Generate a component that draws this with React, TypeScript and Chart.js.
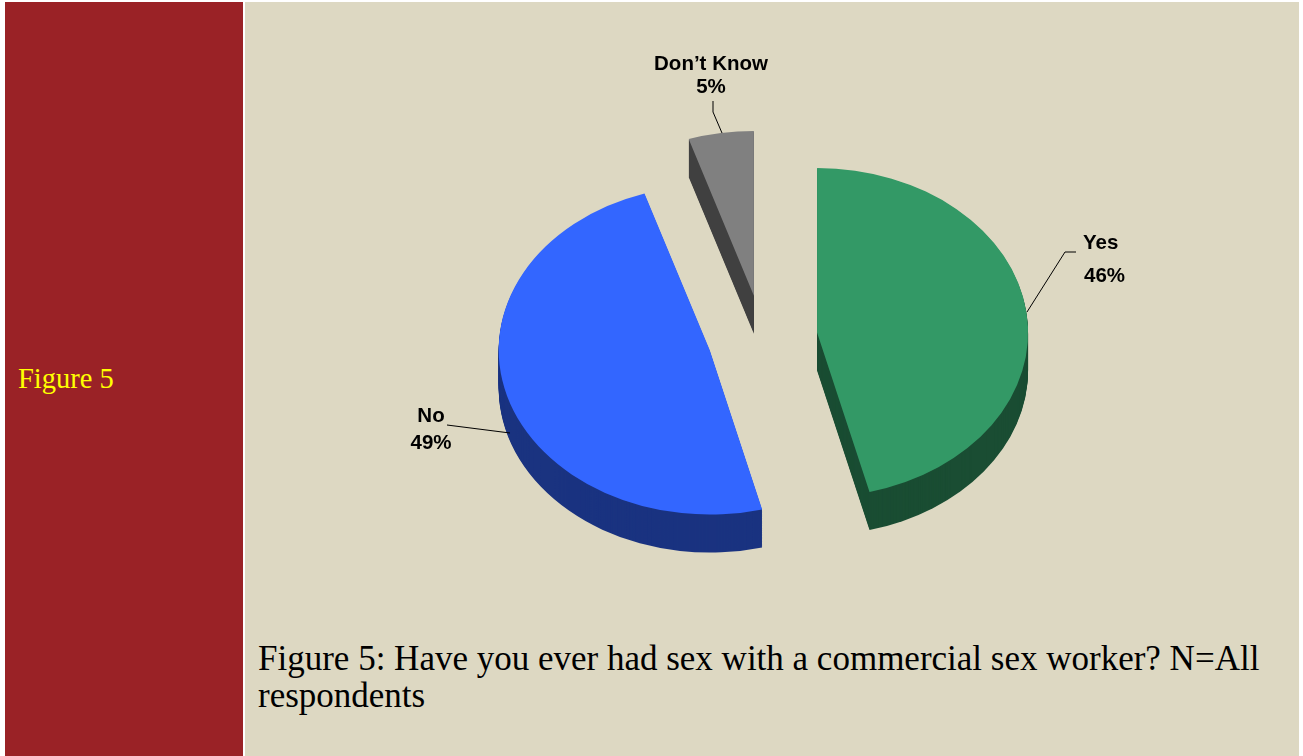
import React, { useEffect, useRef } from 'react';
import { Chart, registerables } from 'chart.js';

Chart.register(...registerables);

const categories = ['Yes', 'No', 'Don\u2019t Know'];
const values = [46, 49, 5];
const percentLabels = ['46%', '49%', '5%'];
const topColors = ['#339966', '#3366FF', '#808080'];
const sideColors = ['#1A4D33', '#1A3380', '#404040'];

const TILT = 0.78;
const DEPTH = 38;
const EXPLODE = 55;

// label layout (canvas pixels)
const labelLayout = [
  { x: 838, y1: 247, y2: 280, align: 'left', line: [[831, 250], [820, 250], [782, 310]] },
  { x: 186, y1: 420, y2: 447, align: 'center', line: [[202, 423], [265, 431]] },
  { x: 466, y1: 68, y2: 91, align: 'center', line: [[468, 99], [468, 110], [477, 131]] },
];

const pie3dPlugin = {
  id: 'pie3d',
  beforeDatasetsDraw(chart: any) {
    const ctx = chart.ctx as CanvasRenderingContext2D;
    const meta = chart.getDatasetMeta(0);
    const arcs = meta.data as any[];
    if (!arcs.length) return false;
    const cx = arcs[0].x;
    const cy = arcs[0].y;
    const shift = (arc: any) => {
      const h = (arc.startAngle + arc.endAngle) / 2;
      return [Math.cos(h) * EXPLODE, Math.sin(h) * EXPLODE];
    };
    ctx.save();
    ctx.translate(cx, cy);
    ctx.scale(1, TILT);
    ctx.translate(-cx, -cy);
    for (let d = DEPTH; d >= 1; d -= 1) {
      arcs.forEach((arc, i) => {
        const [sx, sy] = shift(arc);
        const ox = arc.x + sx;
        const oy = arc.y + sy + d / TILT;
        ctx.beginPath();
        ctx.moveTo(ox, oy);
        ctx.arc(ox, oy, arc.outerRadius, arc.startAngle, arc.endAngle);
        ctx.closePath();
        ctx.fillStyle = sideColors[i];
        ctx.fill();
      });
    }
    arcs.forEach((arc) => {
      const [sx, sy] = shift(arc);
      ctx.save();
      ctx.translate(sx, sy);
      arc.draw(ctx);
      ctx.restore();
    });
    ctx.restore();

    // labels
    ctx.save();
    ctx.fillStyle = '#000000';
    ctx.strokeStyle = '#000000';
    ctx.lineWidth = 1;
    ctx.font = 'bold 20.5px "Liberation Sans", Arial, sans-serif';
    ctx.textBaseline = 'alphabetic';
    labelLayout.forEach((l, i) => {
      ctx.textAlign = l.align as CanvasTextAlign;
      ctx.fillText(categories[i], l.x, l.y1);
      ctx.fillText(percentLabels[i], l.x + (l.align === 'left' ? 1 : 0), l.y2);
      ctx.beginPath();
      l.line.forEach((p, j) => {
        if (j === 0) ctx.moveTo(p[0], p[1]);
        else ctx.lineTo(p[0], p[1]);
      });
      ctx.stroke();
    });
    ctx.restore();
    return false;
  },
};

export default function App() {
  const ref = useRef<HTMLCanvasElement | null>(null);
  useEffect(() => {
    if (!ref.current) return;
    const chart = new Chart(ref.current, {
      type: 'pie',
      data: {
        labels: categories,
        datasets: [
          {
            data: values,
            backgroundColor: topColors,
            borderWidth: 0,
            offset: 0,
          },
        ],
      },
      options: {
        responsive: false,
        animation: false,
        radius: 211,
        layout: { padding: { top: 72, right: 19, left: 0, bottom: 0 } },
        plugins: {
          legend: { display: false },
          tooltip: { enabled: false },
          title: { display: false },
        },
        events: [],
      } as any,
      plugins: [pie3dPlugin],
    });
    return () => chart.destroy();
  }, []);

  return (
    <div
      style={{
        position: 'fixed',
        left: 0,
        top: 0,
        width: 1303,
        height: 756,
        background: '#FFFFFF',
        overflow: 'hidden',
      }}
    >
      <div
        style={{
          position: 'absolute',
          left: 5,
          top: 2,
          width: 238,
          height: 754,
          background: '#9A2226',
        }}
      >
        <div
          style={{
            position: 'absolute',
            left: 13,
            top: 361,
            fontFamily: '"Liberation Serif", "DejaVu Serif", serif',
            fontSize: 28.5,
            lineHeight: '31px',
            color: '#FFFF00',
            whiteSpace: 'nowrap',
          }}
        >
          Figure 5
        </div>
      </div>
      <div
        style={{
          position: 'absolute',
          left: 245,
          top: 2,
          width: 1054,
          height: 754,
          background: '#DDD8C2',
        }}
      >
        <canvas ref={ref} width={1054} height={600} style={{ position: 'absolute', left: 0, top: 0 }} />
        <div
          style={{
            position: 'absolute',
            left: 13,
            top: 638,
            width: 1040,
            fontFamily: '"Liberation Serif", "DejaVu Serif", serif',
            fontSize: 35,
            lineHeight: '37px',
            color: '#000000',
            whiteSpace: 'nowrap',
          }}
        >
          Figure 5: Have you ever had sex with a commercial sex worker? N=All
          <br />
          respondents
        </div>
      </div>
    </div>
  );
}
